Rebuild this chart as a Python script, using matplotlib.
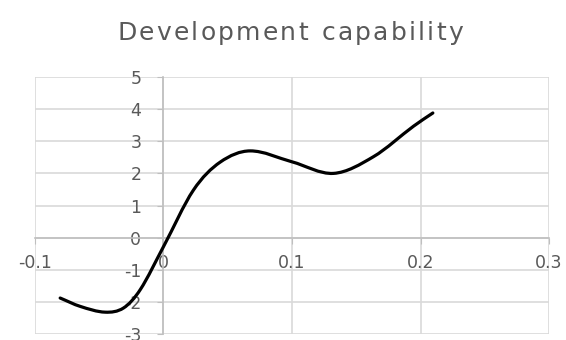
import numpy as np
from matplotlib import pyplot as plt
from matplotlib.path import Path
from matplotlib.patches import PathPatch

# data
x = [-0.0804, -0.0648, -0.0454, -0.0311, -0.0181, 0.0, 0.0233, 0.0441,
     0.0674, 0.1, 0.1323, 0.1634, 0.1946, 0.2096]
y = [-1.88, -2.14, -2.32, -2.19, -1.62, -0.28, 1.48, 2.35,
     2.70, 2.36, 2.0, 2.52, 3.47, 3.88]

xticks = [-0.1, 0, 0.1, 0.2, 0.3]
xlabels = ["-0.1", "0", "0.1", "0.2", "0.3"]
yticks = [-3, -2, -1, 0, 1, 2, 3, 4, 5]
ylabels = ["-3", "-2", "-1", "0", "1", "2", "3", "4", "5"]
title = "Development capability"

grey = "#595959"
grid = "#d9d9d9"

fig = plt.figure(figsize=(5.66, 3.40), dpi=100)
ax = fig.add_axes([0.0618, 0.0176, 0.9082, 0.7559])

# smooth line: cubic bezier segments with slopes from neighbouring points
xa = np.array(x)
ya = np.array(y)
n = len(xa)
slope = np.zeros(n)
slope[1:-1] = (ya[2:] - ya[:-2]) / (xa[2:] - xa[:-2])
slope[0] = (ya[1] - ya[0]) / (xa[1] - xa[0])
slope[-1] = (ya[-1] - ya[-2]) / (xa[-1] - xa[-2])
verts = [(xa[0], ya[0])]
codes = [Path.MOVETO]
for i in range(n - 1):
    h = xa[i + 1] - xa[i]
    verts += [(xa[i] + h / 3, ya[i] + slope[i] * h / 3),
              (xa[i + 1] - h / 3, ya[i + 1] - slope[i + 1] * h / 3),
              (xa[i + 1], ya[i + 1])]
    codes += [Path.CURVE4] * 3
ax.add_patch(PathPatch(Path(verts, codes), fill=False, edgecolor="black",
                       lw=2.3, capstyle="round", joinstyle="round", zorder=3))

ax.set_xlim(-0.1, 0.3)
ax.set_ylim(-3, 5)
ax.set_xticks(xticks)
ax.set_xticklabels(xlabels)
ax.set_yticks(yticks)
ax.set_yticklabels(ylabels)

ax.grid(True, color=grid, lw=1.2)
ax.set_axisbelow(True)
for s in ["top", "right"]:
    ax.spines[s].set_visible(False)
ax.spines["left"].set_position(("data", 0))
ax.spines["bottom"].set_position(("data", 0))
ax.spines["left"].set_color("#bfbfbf")
ax.spines["bottom"].set_color("#bfbfbf")
ax.spines["left"].set_linewidth(1.2)
ax.spines["bottom"].set_linewidth(1.2)

ax.tick_params(axis="x", length=4, color="#bfbfbf", pad=8,
               labelcolor=grey, labelsize=12.5)
ax.tick_params(axis="y", length=4, color="#bfbfbf", pad=12,
               labelcolor=grey, labelsize=12.5)

# title with a bit of letter spacing, one character at a time
renderer = fig.canvas.get_renderer()
chars = []
widths = []
for ch in title:
    t = fig.text(0, 0.903, ch if ch != " " else "n", fontsize=18, color=grey,
                 family="DejaVu Sans", va="center", ha="left")
    w = t.get_window_extent(renderer).width
    if ch == " ":
        t.set_text(" ")
        w = w * 0.55
    chars.append(t)
    widths.append(w)
spacing = (346 - sum(widths)) / (len(chars) - 1)
fig_w = fig.get_figwidth() * fig.dpi
xpos = 290 - 346 / 2
for t, w in zip(chars, widths):
    t.set_x(xpos / fig_w)
    xpos += w + spacing

plt.savefig("out.png", dpi=100)
